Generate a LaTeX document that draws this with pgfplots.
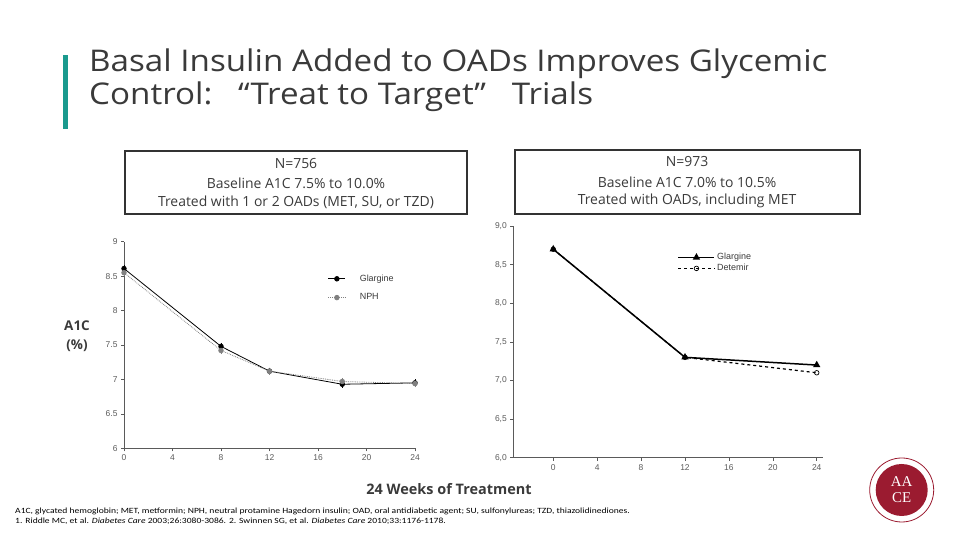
\documentclass[border=0pt]{standalone}
\usepackage{pgfplots}
\pgfplotsset{compat=1.18}
\usepackage{fontspec}
\setmainfont{Open Sans}
\newfontfamily\plotfont{Liberation Sans}
\newfontfamily\notefont{Carlito}
\newfontfamily\logofont{Liberation Serif}

\definecolor{accentteal}{HTML}{1A9A8E}
\definecolor{titlegray}{HTML}{3A3A3A}
\definecolor{boxgray}{HTML}{333333}
\definecolor{axisgray}{HTML}{5A5A5A}
\definecolor{nphgray}{HTML}{808080}
\definecolor{aacered}{HTML}{9B1B30}

\pgfplotsset{
  trialaxis/.style={
    scale only axis,
    axis x line*=bottom,
    axis y line*=left,
    axis line style={axisgray, line width=0.6pt},
    tick align=outside,
    major tick length=3pt,
    tick style={axisgray, line width=0.5pt},
    ymin=6, ymax=9,
    xtick={0,4,...,24},
    ytick={6,6.5,...,9},
    ticklabel style={font=\plotfont\fontsize{8.5}{9}\selectfont, text=axisgray},
    /pgf/number format/assume math mode=true,
    legend style={draw=none, fill=none, font=\plotfont\fontsize{9}{10}\selectfont,
      text=titlegray},
    legend cell align=left,
    clip=false,
  }
}

\begin{document}
\begin{tikzpicture}[x=1bp,y=1bp]
\useasboundingbox (0,0) rectangle (960,540);
\coordinate (leftorigin) at (124,91.7);
\coordinate (rightorigin) at (513.3,82.3);

% title with accent bar
\fill[accentteal] (63,485) rectangle (68,411);
\node[anchor=base west, inner sep=0pt, text=titlegray, xscale=1.11,
  font=\fontsize{30}{30}\selectfont] at (89,468)
  {Basal Insulin Added to OADs Improves Glycemic};
\node[anchor=base west, inner sep=0pt, text=titlegray, xscale=1.11,
  font=\fontsize{30}{30}\selectfont] at (89,435)
  {Control:\ \ \ “Treat to Target”\ \ \ Trials};

% study description boxes
\draw[boxgray, line width=1.3pt] (125,389) rectangle (467,326);
\node[font=\fontsize{14}{14}\selectfont, text=titlegray] at (296,376) {N=756};
\node[font=\fontsize{14}{14}\selectfont, text=titlegray] at (296,357) {Baseline A1C 7.5\% to 10.0\%};
\node[font=\fontsize{14}{14}\selectfont, text=titlegray] at (296,338) {Treated with 1 or 2 OADs (MET, SU, or TZD)};

\draw[boxgray, line width=1.3pt] (515,390) rectangle (860,326);
\node[font=\fontsize{14}{14}\selectfont, text=titlegray] at (687,378) {N=973};
\node[font=\fontsize{14}{14}\selectfont, text=titlegray] at (687,358) {Baseline A1C 7.0\% to 10.5\%};
\node[font=\fontsize{14}{14}\selectfont, text=titlegray] at (687,339) {Treated with OADs, including MET};

% left trial: glargine vs NPH
\begin{axis}[trialaxis,
  at={(leftorigin)}, anchor=south west,
  width=291bp, height=206.6bp,
  xmin=0, xmax=24,
  legend style={at={(0.69,0.86)}, anchor=north west, row sep=7pt, column sep=12bp},
]
\addplot[black, line width=0.8pt, mark=*, mark size=2.3pt,
  error bars/.cd, y dir=both, y fixed=0.03,
  error bar style={black, line width=0.5pt}, error mark options={black, mark size=1.5pt}]
  coordinates {(0,8.61) (8,7.48) (12,7.12) (18,6.93) (24,6.95)};
\addlegendentry{Glargine}
\addplot[nphgray, densely dotted, line width=0.8pt, mark=*, mark size=2.3pt,
  mark options={solid, fill=nphgray},
  error bars/.cd, y dir=both, y fixed=0.03,
  error bar style={nphgray, solid, line width=0.5pt}, error mark options={nphgray, mark size=1.5pt}]
  coordinates {(0,8.55) (8,7.42) (12,7.12) (18,6.97) (24,6.94)};
\addlegendentry{NPH}
\end{axis}

% right trial: glargine vs detemir
\begin{axis}[trialaxis,
  at={(rightorigin)}, anchor=south west,
  width=310bp, height=231.6bp,
  xmin=-3.64, xmax=24.6,
  yticklabel style={/pgf/number format/.cd, fixed, fixed zerofill, precision=1, use comma},
  legend style={at={(0.52,0.90)}, anchor=north west, row sep=-1pt},
  legend image code/.code={%
    \draw[mark repeat=2, mark phase=2, #1]
      plot coordinates {(0bp,0bp) (18bp,0bp) (36bp,0bp)};},
]
\addplot[black, line width=1.5pt, mark=triangle*, mark size=2.8pt, mark options={solid}]
  coordinates {(0,8.7) (12,7.3) (24,7.2)};
\addlegendentry{Glargine}
\addplot[black, dashed, line width=1.2pt, mark=o, mark size=2.3pt,
  mark options={solid, fill=white, line width=0.7pt}]
  coordinates {(0,8.7) (12,7.3) (24,7.1)};
\addlegendentry{Detemir}
\end{axis}

% shared labels
\node[font=\bfseries\fontsize{13.5}{19}\selectfont, text=titlegray, align=center] at (77,204)
  {A1C\\(\%)};
\node[font=\bfseries\fontsize{14.5}{16}\selectfont, text=titlegray] at (449,51)
  {24 Weeks of Treatment};

% footnotes
\node[anchor=base west, inner sep=0pt, xscale=1.2, font=\notefont\fontsize{8}{9}\selectfont, text=black] at (15,26)
  {A1C, glycated hemoglobin; MET, metformin; NPH, neutral protamine Hagedorn insulin; OAD, oral antidiabetic agent; SU, sulfonylureas; TZD, thiazolidinediones.};
\node[anchor=base west, inner sep=0pt, xscale=1.2, font=\notefont\fontsize{8}{9}\selectfont, text=black] at (15,16)
  {1. Riddle MC, et al. \textit{Diabetes Care} 2003;26:3080-3086. 2. Swinnen SG, et al. \textit{Diabetes Care} 2010;33:1176-1178.};

% society logo
\draw[aacered, line width=0.8pt] (901.7,50) circle (32);
\fill[aacered] (901.7,50) circle (26);
\node[text=white, font=\logofont\fontsize{15}{15}\selectfont] at (901.7,58) {AA};
\node[text=white, font=\logofont\fontsize{15}{15}\selectfont] at (901.7,42) {CE};
\end{tikzpicture}
\end{document}
